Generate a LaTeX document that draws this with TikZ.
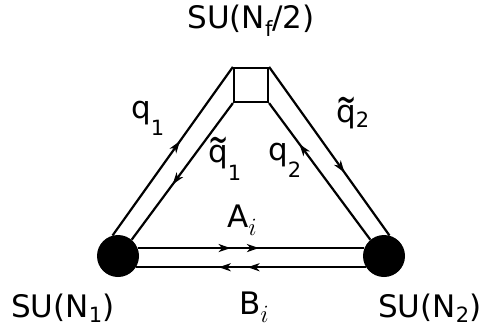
\documentclass[tikz,border=0pt]{standalone}
\usepackage{fontspec}
\setmainfont{DejaVu Sans}
\usetikzlibrary{arrows.meta,decorations.markings}
\pgfdeclarelayer{bg}\pgfsetlayers{bg,main}
\newcommand\lsub[2]{\raisebox{#1}{\fontsize{21}{21}\selectfont #2}}
\newcommand\msub[2]{\raisebox{#1}{\fontsize{23}{23}\selectfont $#2$}}
\newcommand\tq{\makebox[0pt][l]{\raisebox{9pt}{\scalebox{0.78}[1.35]{\textasciitilde}}}q}
\begin{document}
\begin{tikzpicture}[x=1pt,y=-1pt,
  lbl/.style={inner sep=0pt,font=\fontsize{31}{33}\selectfont},
  grp/.style={circle,fill=black,minimum size=42pt,inner sep=0pt},
  flav/.style={draw,line width=2.2pt,minimum size=34pt,inner sep=0pt},
  edge/.style={line width=2.2pt},
  tipone/.style={postaction={decorate},decoration={markings,
     mark=at position #1 with {\arrow{Stealth[length=12pt,width=8pt,inset=3.5pt]}}}},
  tiptwo/.style 2 args={postaction={decorate},decoration={markings,
     mark=at position #1 with {\arrow{Stealth[length=12pt,width=8pt,inset=3.5pt]}},
     mark=at position #2 with {\arrow{Stealth[length=12pt,width=8pt,inset=3.5pt]}}}},
]
\useasboundingbox (0,0) rectangle (486,333);
% nodes
\node[flav] (box) at (251,85) {};
\node[grp] (L) at (118,256) {};
\node[grp] (R) at (384,256) {};
% connectors
\begin{pgfonlayer}{bg}
\draw[edge,tipone=0.56] (L.105) -- (box.north west);
\draw[edge,tipone=0.595] (box.south west) -- (L.50);
\draw[edge,tipone=0.70] (R.130) -- (box.south east);
\draw[edge,tipone=0.626] (box.north east) -- (R.75);
\draw[edge,tiptwo={0.41}{0.535}] (L.22) -- (R.158);
\draw[edge,tiptwo={0.515}{0.64}] (R.-148) -- (L.-32);
\end{pgfonlayer}
% labels
\node[lbl,anchor=base] (tSF) at (251,28) {SU(N\lsub{-8pt}{f}/2)};
\node[lbl,anchor=base west] (tq1) at (131,118) {q\lsub{-17pt}{1}};
\node[lbl,anchor=base west] (tqt1) at (208,162) {\tq\lsub{-18pt}{1}};
\node[lbl,anchor=base west] (tq2) at (268,160) {q\lsub{-17pt}{2}};
\node[lbl,anchor=base west] (tqt2) at (336,122) {\tq\lsub{-5pt}{2}};
\node[lbl,anchor=base west] (tA) at (227,227) {A\msub{-8pt}{i}};
\node[lbl,anchor=base west] (tB) at (239,314) {B\msub{-8pt}{i}};
\node[lbl,anchor=base west] (tS1) at (11,317) {SU(N\lsub{-5pt}{1})};
\node[lbl,anchor=base west] (tS2) at (378,317) {SU(N\lsub{-5pt}{2})};
\end{tikzpicture}
\end{document}
